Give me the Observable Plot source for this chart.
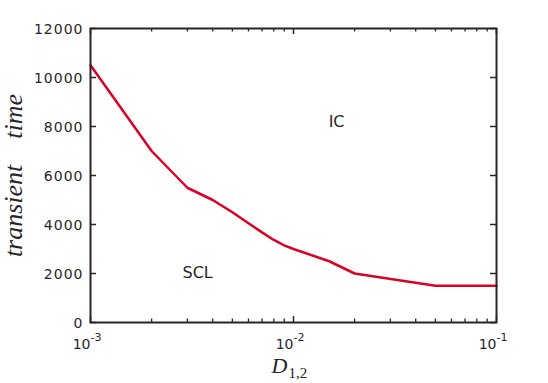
<!DOCTYPE html>
<html>
<head>
<meta charset="utf-8">
<script src="https://cdn.jsdelivr.net/npm/d3@7"></script>
<script src="https://cdn.jsdelivr.net/npm/@observablehq/plot@0.6"></script>
<style>
  html, body { margin: 0; padding: 0; background: #fff; }
  #chart g[aria-label="y-axis tick label"] text { letter-spacing: 1px; }
</style>
</head>
<body>
<div id="chart"></div>
<script>
// Data
const couplingD = [0.001, 0.002, 0.003, 0.004, 0.005, 0.006, 0.007, 0.008, 0.009, 0.01, 0.015, 0.02, 0.05, 0.1];
const transientTime = [10500, 7000, 5500, 5000, 4500, 4050, 3680, 3370, 3150, 3000, 2500, 2000, 1500, 1500];

const xMajorTicks = [0.001, 0.01, 0.1];
const xMinorTicks = [0.002, 0.003, 0.004, 0.005, 0.006, 0.007, 0.008, 0.009,
                     0.02, 0.03, 0.04, 0.05, 0.06, 0.07, 0.08, 0.09];
const yTicks = [0, 2000, 4000, 6000, 8000, 10000, 12000];
const xTickBase = ["10", "10", "10"];
const xTickExponent = ["-3", "-2", "-1"];

const regionNames = ["IC", "SCL"];
const regionD = [0.0163, 0.00337];
const regionT = [8200, 2040];

const yLabel = "transient\u2003time";
const xLabelMain = "D";
const xLabelSub = "1,2";

const W = 548, H = 383;
const mL = 90, mR = 52, mT = 28, mB = 61;
const innerW = W - mL - mR, innerH = H - mT - mB;
const ink = "#262626";
const lineColor = "#dc0026";

const table = couplingD.map((d, i) => ({d, t: transientTime[i]}));
const regions = regionNames.map((name, i) => ({name, d: regionD[i], t: regionT[i]}));

const chart = Plot.plot({
  width: W,
  height: H,
  marginLeft: mL,
  marginRight: mR,
  marginTop: mT,
  marginBottom: mB,
  style: {color: ink, fontFamily: "DejaVu Sans", fontSize: "14px", background: "#fff", overflow: "visible"},
  x: {type: "log", domain: [0.001, 0.1], axis: null},
  y: {domain: [0, 12000], axis: null},
  marks: [
    // inward ticks: bottom/top majors
    Plot.tickX(xMajorTicks, {x: d => d, insetTop: innerH - 6, stroke: ink, strokeWidth: 1.5}),
    Plot.tickX(xMajorTicks, {x: d => d, insetBottom: innerH - 6, stroke: ink, strokeWidth: 1.5}),
    // minor
    Plot.tickX(xMinorTicks, {x: d => d, insetTop: innerH - 3.5, stroke: ink, strokeWidth: 1.3}),
    Plot.tickX(xMinorTicks, {x: d => d, insetBottom: innerH - 3.5, stroke: ink, strokeWidth: 1.3}),
    // y ticks left/right
    Plot.tickY(yTicks, {y: d => d, insetRight: innerW - 6, stroke: ink, strokeWidth: 1.5}),
    Plot.tickY(yTicks, {y: d => d, insetLeft: innerW - 6, stroke: ink, strokeWidth: 1.5}),
    // y tick labels
    Plot.axisY(yTicks, {tickSize: 0, tickPadding: 7, fontSize: 14, fill: ink, label: null, dy: 1.5,
      tickFormat: d => String(d)}),
    // x tick labels (10 with raised exponent)
    Plot.text(xMajorTicks, {x: d => d, text: (d, i) => xTickBase[i], frameAnchor: "bottom",
      textAnchor: "end", lineAnchor: "bottom", dy: 26, fontSize: 14, fill: ink}),
    Plot.text(xMajorTicks, {x: d => d, text: (d, i) => xTickExponent[i], frameAnchor: "bottom",
      textAnchor: "start", lineAnchor: "bottom", dy: 18, fontSize: 11, fill: ink}),
    // data line
    Plot.line(table, {x: "d", y: "t", stroke: lineColor, strokeWidth: 2.5}),
    // region labels
    Plot.text(regions, {x: "d", y: "t", text: "name", fontSize: 16, fill: ink}),
    // y title
    Plot.text([yLabel], {frameAnchor: "left", textAnchor: "middle", lineAnchor: "middle", dx: -77, rotate: -90,
      fontFamily: "Liberation Serif", fontStyle: "italic", fontSize: 26, fill: ink}),
    // x title
    Plot.text([xLabelMain], {frameAnchor: "bottom", textAnchor: "end", lineAnchor: "bottom", dx: -6, dy: 50,
      fontFamily: "Liberation Serif", fontStyle: "italic", fontSize: 22, fill: ink}),
    Plot.text([xLabelSub], {frameAnchor: "bottom", textAnchor: "start", lineAnchor: "bottom", dx: -5, dy: 55,
      fontFamily: "Liberation Serif", fontSize: 15, fill: ink}),
    Plot.frame({stroke: ink, strokeWidth: 2})
  ]
});
document.getElementById("chart").appendChild(chart);
</script>
</body>
</html>
